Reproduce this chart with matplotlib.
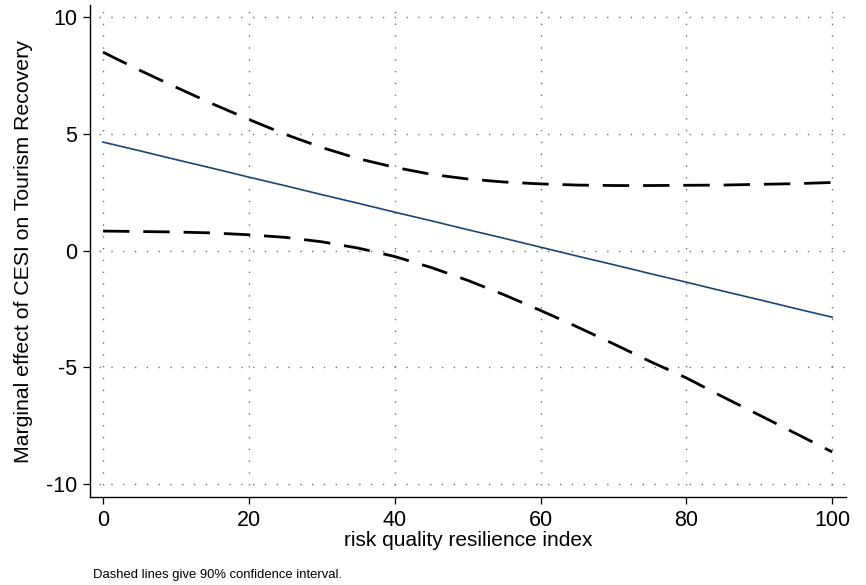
import matplotlib
matplotlib.use("Agg")
import matplotlib.pyplot as plt
import numpy as np

plt.rcParams['font.family'] = ['Liberation Sans', 'DejaVu Sans']
plt.rcParams['axes.unicode_minus'] = False

# risk quality resilience index (moderator values)
rqri = [0, 5, 10, 15, 20, 25, 30, 35, 40, 45, 50, 55, 60, 65, 70, 75, 80, 85, 90, 95, 100]
# marginal effect of CESI
effect = [4.65, 4.28, 3.90, 3.53, 3.15, 2.78, 2.40, 2.03, 1.65, 1.28, 0.90, 0.53, 0.15,
          -0.23, -0.60, -0.98, -1.35, -1.73, -2.10, -2.48, -2.85]
# 90% confidence bounds
upper = [8.50, 7.73, 7.00, 6.29, 5.62, 4.98, 4.42, 3.94, 3.57, 3.27, 3.07, 2.94, 2.86,
         2.81, 2.79, 2.79, 2.80, 2.81, 2.84, 2.87, 2.92]
lower = [0.84, 0.82, 0.80, 0.76, 0.68, 0.57, 0.38, 0.11, -0.25, -0.72, -1.27, -1.89, -2.56,
         -3.26, -3.99, -4.74, -5.45, -6.26, -7.04, -7.83, -8.62]

xticks = [0, 20, 40, 60, 80, 100]
yticks = [-10, -5, 0, 5, 10]

fig = plt.figure(figsize=(8.66, 5.85), dpi=100)
ax = fig.add_axes([0.1034, 0.150, 0.8736, 0.841])
ax.set_xlim(-1.85, 101.9)
ax.set_ylim(-10.56, 10.51)

grid_kw = dict(color='#6e6e6e', lw=1.0, linestyle=(0, (1, 7.5)), zorder=0)
ax.hlines(yticks, -0.6, 101.7, **grid_kw)
ax.vlines(xticks, -10.05, 10.45, **grid_kw)

ax.plot(rqri, effect, color='#1a476f', lw=1.2, zorder=3)
ax.plot(rqri, upper, color='black', lw=2.0, linestyle=(0, (9.5, 5)),
        dash_capstyle='butt', zorder=3)
ax.plot(rqri, lower, color='black', lw=2.0, linestyle=(0, (9.5, 5)),
        dash_capstyle='butt', zorder=3)

for s in ['top', 'right']:
    ax.spines[s].set_visible(False)
for s in ['left', 'bottom']:
    ax.spines[s].set_linewidth(1.0)
ax.set_xticks(xticks)
ax.set_yticks(yticks)
ax.tick_params(direction='out', length=5, width=0.9, labelsize=15.5, pad=4)

ax.set_xlabel('risk quality resilience index', fontsize=15, labelpad=0)
ax.set_ylabel('Marginal effect of CESI on Tourism Recovery', fontsize=15.3, labelpad=9)
fig.text(0.1075, 0.0115, 'Dashed lines give 90% confidence interval.', fontsize=9.4)

fig.savefig('out.png', dpi=100)
